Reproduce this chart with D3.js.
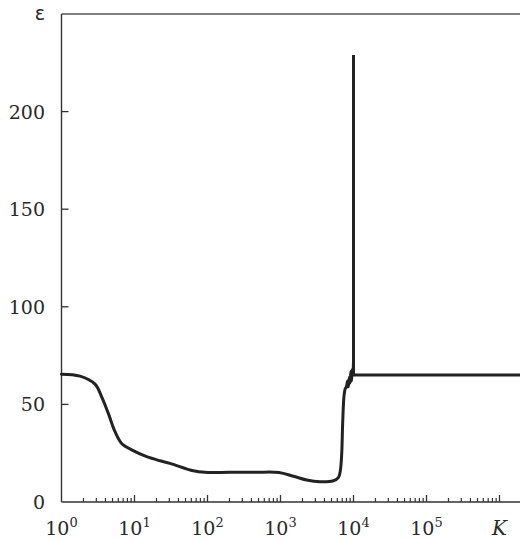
<!DOCTYPE html>
<html><head><meta charset="utf-8">
<script src="https://cdn.jsdelivr.net/npm/d3@7"></script>
<style>body{margin:0;background:#fff}svg{display:block}</style>
</head><body>
<script>
// Data
const kValues   = [1, 1.79, 2.88, 3.55, 4.38, 5.41, 6.67, 9.6, 14.7, 22.4, 30.6, 64, 92, 200, 450, 950, 1500, 2280, 3470, 5300, 6200, 6600, 6900, 7100, 7400, 7700, 8000, 8300, 8500, 8800, 9000, 9200, 9400, 9600, 9800, 10000, 10000, 10000, 2000000];
const epsValues = [65.5, 64.5, 60.4, 53.9, 45.4, 36, 30, 26.3, 23.2, 21.1, 19.8, 16.0, 15.2, 15.2, 15.2, 15.1, 13.2, 11.3, 10.4, 10.9, 12.5, 16, 25, 40, 54, 58, 59, 62, 59, 64, 61, 67, 62, 68, 65, 72, 229, 65, 65];
const yTicks = [50, 100, 150, 200];
const xMajorExp = [1, 2, 3, 4, 5, 6];
const xLabelExp = ["0", "1", "2", "3", "4", "5"];
const yLabelZero = "0";

const W = 520, H = 541;
const svg = d3.select("body").append("svg").attr("width", W).attr("height", H);

const x = d3.scaleLog().domain([1, Math.pow(10, 6.2808)]).range([61.5, 520]);
const y = d3.scaleLinear().domain([0, 250]).range([502, 14]);

const serif = "'DejaVu Serif', serif";
const txt = "#2a2a2a";

// frame: top border
svg.append("line").attr("x1", 61.5).attr("x2", 520).attr("y1", 14).attr("y2", 14)
  .attr("stroke", "#555").attr("stroke-width", 1.6);
// left axis
svg.append("line").attr("x1", 61.5).attr("x2", 61.5).attr("y1", 14).attr("y2", 502)
  .attr("stroke", "#333").attr("stroke-width", 1.4);
// bottom axis
svg.append("line").attr("x1", 61.5).attr("x2", 520).attr("y1", 502).attr("y2", 502)
  .attr("stroke", "#333").attr("stroke-width", 1.4);

// y ticks
svg.selectAll(".yt").data(yTicks).enter().append("line")
  .attr("x1", 61.5).attr("x2", 68.5)
  .attr("y1", d => y(d)).attr("y2", d => y(d))
  .attr("stroke", "#333").attr("stroke-width", 1.3);
svg.selectAll(".yl").data([0].concat(yTicks)).enter().append("text")
  .attr("x", 45).attr("y", d => y(d) + 7)
  .attr("text-anchor", "end")
  .attr("font-family", serif).attr("font-size", 19).attr("fill", txt)
  .text(d => d === 0 ? yLabelZero : d);

// x ticks (minor + major)
const minor = [];
for (let e = 0; e < 7; e++) for (let m = 2; m <= 9; m++) {
  const v = m * Math.pow(10, e);
  if (v < x.domain()[1]) minor.push(v);
}
svg.selectAll(".xm").data(minor).enter().append("line")
  .attr("x1", d => x(d)).attr("x2", d => x(d))
  .attr("y1", 502).attr("y2", 498)
  .attr("stroke", "#333").attr("stroke-width", 1.2);
svg.selectAll(".xM").data(xMajorExp).enter().append("line")
  .attr("x1", d => x(Math.pow(10, d))).attr("x2", d => x(Math.pow(10, d)))
  .attr("y1", 502).attr("y2", 495)
  .attr("stroke", "#333").attr("stroke-width", 1.3);

// x labels
xLabelExp.forEach((ex, i) => {
  const t = svg.append("text")
    .attr("x", x(Math.pow(10, i))).attr("y", 535)
    .attr("text-anchor", "middle")
    .attr("font-family", serif).attr("font-size", 19).attr("fill", txt);
  t.append("tspan").text("10");
  t.append("tspan").attr("dy", -8).attr("font-size", 13).text(ex);
});
svg.append("text").attr("x", x(1e6)).attr("y", 535)
  .attr("text-anchor", "middle")
  .attr("font-family", serif).attr("font-style", "italic").attr("font-size", 20).attr("fill", txt)
  .text("K");

// y label epsilon
svg.append("text").attr("x", 40).attr("y", 19.5)
  .attr("text-anchor", "middle")
  .attr("font-family", "'DejaVu Sans', sans-serif").attr("font-size", 19).attr("fill", txt)
  .text("ε");

// curve: smooth part up to the transition, then linear spike + plateau
const pts = kValues.map((k, i) => [k, epsValues[i]]);
const splitIdx = kValues.indexOf(10000);
const smoothPts = pts.slice(0, splitIdx + 1);
const sharpPts = pts.slice(splitIdx);
const smooth = d3.line().x(d => x(d[0])).y(d => y(d[1])).curve(d3.curveCatmullRom.alpha(0.5));
const sharp = d3.line().x(d => x(d[0])).y(d => y(d[1])).curve(d3.curveLinear);
svg.append("path").datum(smoothPts).attr("d", smooth)
  .attr("fill", "none").attr("stroke", "#222").attr("stroke-width", 3)
  .attr("stroke-linejoin", "round").attr("stroke-linecap", "round");
svg.append("path").datum(sharpPts).attr("d", sharp)
  .attr("fill", "none").attr("stroke", "#222").attr("stroke-width", 3)
  .attr("stroke-linejoin", "miter");
</script>
</body></html>
